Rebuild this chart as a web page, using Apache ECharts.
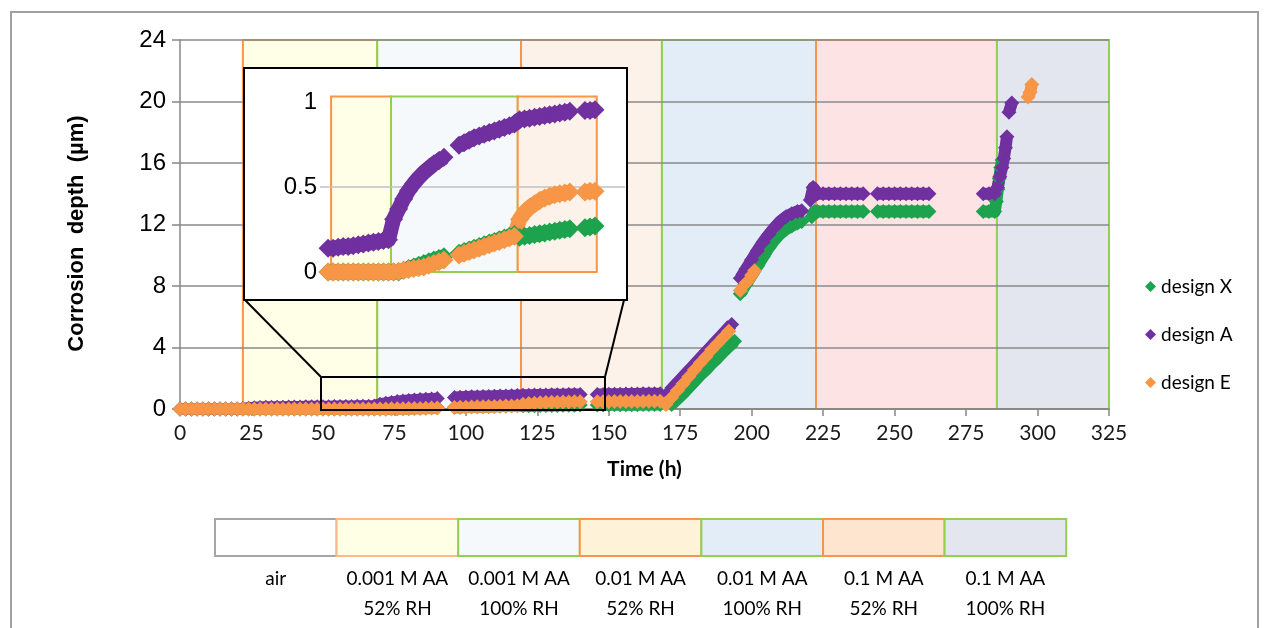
<!DOCTYPE html>
<html><head><meta charset="utf-8">
<script src="https://cdn.jsdelivr.net/npm/echarts@6/dist/echarts.min.js"></script>
<style>html,body{margin:0;padding:0;background:#fff}#c{width:1271px;height:628px}</style>
</head><body><div id="c"></div>
<script>
// ---------- data ----------
const seriesNames = ['design X', 'design A', 'design E'];
const seriesColors = ['#1DA34D', '#7030A0', '#F79646'];

// sampling times of the early (low corrosion) period, hours
const timeLow = [0,2,4,6,8,10,12,14,16,18,20,22,24,26,28,30,32,34,36,38,40,42,44,46,48,50,52,54,56,58,60,62,64,66,68,70,72,74,76,78,80,82,84,86,88,90,
  96,98,100,102,104,106,108,110,112,114,116,118,120,122,124,126,128,130,132,134,136,138,140,
  146,148,150,152,154,156,158,160,162,164,166,168];

const designX_low = [0,0,0,0,0,0,0,0,0,0, 0,0,0,0,0,0,0,0,0,0, 0,0,0,0,0,0,0,0,0,0, 0,0,0,0,0,0,0,
  0.01,0.02,0.03,0.04,0.05,0.06,0.07,0.08,0.09,
  0.11,0.12,0.13,0.14,0.15,0.16,0.17,0.18,0.19,0.20,0.21,0.22,
  0.205,0.21,0.215,0.22,0.225,0.23,0.235,0.24,0.245,0.25,0.255,
  0.26,0.265,0.27,0.27,0.275,0.275,0.28,0.28,0.285,0.285,0.29,0.29];

const designA_low = [0,0,0,0,0,0,0,0,0,0,0,
  0.02,0.05,0.08,0.10,0.11,0.115,0.12,0.12,0.125,0.13,0.135,
  0.14,0.14,0.145,0.15,0.15,0.155,0.16,0.165,0.17,0.175,0.18,0.185,0.19,
  0.31,0.37,0.43,0.48,0.52,0.555,0.585,0.61,0.635,0.655,0.675,
  0.745,0.76,0.775,0.79,0.80,0.81,0.82,0.83,0.84,0.85,0.86,0.87,
  0.895,0.90,0.905,0.91,0.915,0.92,0.925,0.93,0.935,0.94,0.945,
  0.95,0.95,0.955,0.96,0.965,0.97,0.975,0.98,0.985,0.99,0.99,1.0];

const designE_low = [0,0,0,0,0,0,0,0,0,0, 0,0,0,0,0,0,0,0,0,0, 0,0,0,0,0,0,0,0,0,0, 0,0,0,0,0,
  0,0.005,0.01,0.015,0.02,0.025,0.03,0.04,0.05,0.06,0.07,
  0.10,0.11,0.12,0.13,0.14,0.15,0.16,0.17,0.18,0.19,0.20,0.21,
  0.31,0.35,0.38,0.40,0.42,0.435,0.445,0.455,0.46,0.465,0.47,
  0.47,0.475,0.475,0.48,0.48,0.485,0.49,0.49,0.495,0.5,0.5,0.5];

// later period [time h, depth µm]
const designX_high = [[172,0.3],[174,0.65],[176,1.0],[178,1.4],[180,1.8],[182,2.2],[184,2.55],[186,2.95],[188,3.3],[190,3.7],[192,4.05],[194,4.4],
  [196,7.5],[198,8.1],[200,8.7],[202,9.3],[204,9.9],[206,10.5],[208,11.0],[210,11.4],[212,11.7],[214,11.9],[216,12.1],[217.5,12.2],
  [221,12.5],[222,12.85],[223,12.85],[225,12.85],[227,12.85],[229,12.85],[231,12.85],[233,12.85],[235,12.85],[237,12.85],[239,12.85],
  [244,12.85],[246,12.85],[248,12.85],[250,12.85],[252,12.85],[254,12.85],[256,12.85],[258,12.85],[260,12.85],[262,12.85],
  [281,12.85],[283,12.85],[285,12.85],
  [285.6,13.5],[286.1,14.3],[286.6,15.0],[287.1,15.7],[287.6,16.2]];

const designA_high = [[171,1.1],[173,1.5],[175,1.9],[177,2.3],[179,2.7],[181,3.1],[183,3.5],[185,3.9],[187,4.3],[189,4.7],[191,5.1],[193,5.5],
  [196,8.5],[198,9.1],[200,9.7],[202,10.3],[204,10.85],[206,11.35],[208,11.8],[210,12.2],[212,12.5],[214,12.7],[216,12.85],[217.5,12.9],
  [220.5,13.6],[221.5,14.4],[223,14.0],[225,14.0],[227,14.0],[229,14.0],[231,14.0],[233,14.0],[235,14.0],[237,14.0],[239,14.0],
  [244,14.0],[246,14.0],[248,14.0],[250,14.0],[252,14.0],[254,14.0],[256,14.0],[258,14.0],[260,14.0],[262,14.0],
  [281,14.0],[283,14.0],[285,14.0],
  [286,14.4],[286.8,15.1],[287.6,15.7],[288.2,16.3],[288.8,17.0],[289.3,17.7],[290,19.3],[291,19.9]];

const designE_high = [[170,0.3],[172,0.75],[174,1.2],[176,1.65],[178,2.1],[180,2.55],[182,3.0],[184,3.4],[186,3.85],[188,4.25],[190,4.65],[192,5.05],
  [196,7.7],[198,8.2],[200,8.7],[201,9.0],
  [296.7,20.3],[297.4,20.6],[298,21.1]];

// exposure condition periods (h)
const bandEdges = [22, 69, 119.3, 168.6, 222.5, 285.8, 325];
const bandFills = ['#FFFFE8', '#F5F9FC', '#FDF2E9', '#E3EDF7', '#FDE3E4', '#E3E6EE'];
const bandBorders = ['#F79646', '#92D050', '#F79646', '#92D050', '#F79646', '#92D050'];
const insetWindow = [45.2, 150.7];
const insetDataRange = [44, 150];

// condition key
const conditionLine1 = ['air', '0.001 M AA', '0.001 M AA', '0.01 M AA', '0.01 M AA', '0.1 M AA', '0.1 M AA'];
const conditionLine2 = ['', '52% RH', '100% RH', '52% RH', '100% RH', '52% RH', '100% RH'];
const keyFills = ['#FFFFFF', '#FFFFE5', '#F6F9FC', '#FEF3D8', '#E3EDF7', '#FDE5CF', '#E3E6EE'];
const keyBorders = ['#A6A6A6', '#F9B98A', '#92D050', '#F79646', '#92D050', '#F79646', '#92D050'];

// ---------- build ----------
const lows = [designX_low, designA_low, designE_low];
const highs = [designX_high, designA_high, designE_high];
const full = lows.map((vals, s) => timeLow.map((t, i) => [t, vals[i]]).concat(highs[s]));
const insetData = full.map(d => d.filter(p => p[0] >= insetDataRange[0] && p[0] <= insetDataRange[1]));

// break the drawn trace where measurements are missing
function withBreaks(d) {
  const out = [];
  d.forEach((p, i) => {
    if (i > 0) {
      const q = d[i - 1];
      if (p[0] - q[0] > 2.6 || Math.abs(p[1] - q[1]) > 1.2) out.push([(p[0] + q[0]) / 2, '-']);
    }
    out.push(p);
  });
  return out;
}

const mainBands = [];
for (let i = 0; i < bandFills.length; i++) {
  mainBands.push([{ xAxis: bandEdges[i], yAxis: 0, itemStyle: { color: bandFills[i], borderColor: bandBorders[i], borderWidth: 2 } },
                  { xAxis: bandEdges[i + 1], yAxis: 24 }]);
}
const insetEdges = [insetWindow[0], bandEdges[1], bandEdges[2], insetWindow[1]];
const insetBands = [];
for (let i = 0; i < 3; i++) {
  insetBands.push([{ xAxis: insetEdges[i], yAxis: 0, itemStyle: { color: bandFills[i], borderColor: bandBorders[i], borderWidth: 2 } },
                   { xAxis: insetEdges[i + 1], yAxis: 1.033 }]);
}

const series = [
  { type: 'scatter', name: 'bands', data: [], xAxisIndex: 0, yAxisIndex: 0, z: 1, silent: true,
    markArea: { silent: true, z: 1, data: mainBands } }
];
full.forEach((d, s) => series.push({
  type: 'line', name: seriesNames[s], data: withBreaks(d), xAxisIndex: 0, yAxisIndex: 0, z: 3,
  clip: false, connectNulls: false, showSymbol: true, showAllSymbol: true,
  symbol: 'diamond', symbolSize: 15, itemStyle: { color: seriesColors[s], opacity: 1 },
  lineStyle: { color: seriesColors[s], width: 12, join: 'round', cap: 'butt' }
}));
series.push({ type: 'scatter', name: 'insetBands', data: [], xAxisIndex: 1, yAxisIndex: 1, z: 11, silent: true,
  markArea: { silent: true, z: 11, data: insetBands } });
series.push({ type: 'scatter', name: 'insetGrid', data: [], xAxisIndex: 1, yAxisIndex: 1, z: 12, silent: true,
  markLine: { silent: true, z: 12, symbol: 'none', label: { show: false },
    lineStyle: { color: '#C0C0C0', width: 1.5, type: 'solid' }, data: [{ yAxis: 0.5 }] } });
insetData.forEach((d, s) => series.push({
  type: 'line', name: seriesNames[s], data: withBreaks(d), xAxisIndex: 1, yAxisIndex: 1, z: 13,
  clip: false, connectNulls: false, showSymbol: true, showAllSymbol: true,
  symbol: 'diamond', symbolSize: 19, itemStyle: { color: seriesColors[s], opacity: 1 },
  lineStyle: { color: seriesColors[s], width: 15, join: 'round', cap: 'butt' }
}));

const graphic = [
  { type: 'rect', z: 0, silent: true, shape: { x: 11, y: 12, width: 1247, height: 640 }, style: { fill: 'none', stroke: '#A0A0A0', lineWidth: 2 } },
  { type: 'rect', z: 10, silent: true, shape: { x: 244, y: 68, width: 383, height: 232 }, style: { fill: '#FFFFFF', stroke: '#000000', lineWidth: 2 } },
  { type: 'rect', z: 20, silent: true, shape: { x: 321, y: 377, width: 284, height: 33 }, style: { fill: 'none', stroke: '#000000', lineWidth: 2 } },
  { type: 'line', z: 20, silent: true, shape: { x1: 245, y1: 300, x2: 321, y2: 377 }, style: { stroke: '#000000', lineWidth: 2 } },
  { type: 'line', z: 20, silent: true, shape: { x1: 624, y1: 300, x2: 605, y2: 377 }, style: { stroke: '#000000', lineWidth: 2 } }
];
const keyX0 = 215, keyW = 121.6;
for (let i = 0; i < keyFills.length; i++) {
  const cx = keyX0 + keyW * (i + 0.5);
  graphic.push({ type: 'rect', z: 1, silent: true, shape: { x: keyX0 + keyW * i, y: 519, width: keyW, height: 37 },
    style: { fill: keyFills[i], stroke: keyBorders[i], lineWidth: 2 } });
  graphic.push({ type: 'text', z: 1, silent: true, x: cx, y: 579,
    style: { text: conditionLine1[i], fill: '#000', fontFamily: 'Lato', fontSize: 19, align: 'center', verticalAlign: 'middle', textAlign: 'center', textVerticalAlign: 'middle' } });
  if (conditionLine2[i]) graphic.push({ type: 'text', z: 1, silent: true, x: cx, y: 609,
    style: { text: conditionLine2[i], fill: '#000', fontFamily: 'Lato', fontSize: 19, align: 'center', verticalAlign: 'middle', textAlign: 'center', textVerticalAlign: 'middle' } });
}

const chart = echarts.init(document.getElementById('c'));
chart.setOption({
  animation: false,
  backgroundColor: '#ffffff',
  grid: [
    { left: 180, right: 162, top: 40, bottom: 219 },
    { left: 320, width: 305, top: 93.5, height: 178.5 }
  ],
  xAxis: [
    { type: 'value', gridIndex: 0, min: 0, max: 325, interval: 25, z: 2,
      name: 'Time (h)', nameLocation: 'middle', nameGap: 50,
      nameTextStyle: { fontFamily: 'Lato', fontWeight: 'bold', fontSize: 21, color: '#000' },
      axisLine: { show: true, lineStyle: { color: '#868686', width: 1.5 } },
      axisTick: { show: true, length: 7, lineStyle: { color: '#868686', width: 1.5 } },
      axisLabel: { fontFamily: 'Lato', fontSize: 21, color: '#1a1a1a', margin: 14 },
      splitLine: { show: false } },
    { type: 'value', gridIndex: 1, min: 40.8, max: 161.9, show: false, z: 11 }
  ],
  yAxis: [
    { type: 'value', gridIndex: 0, min: 0, max: 24, interval: 4, z: 2,
      name: 'Corrosion  depth  (µm)', nameLocation: 'middle', nameGap: 92,
      nameTextStyle: { fontFamily: 'Liberation Sans', fontWeight: 'bold', fontSize: 22, color: '#000', padding: [0, 18, 0, 0] },
      axisLine: { show: true, lineStyle: { color: '#868686', width: 1.5 } },
      axisTick: { show: true, length: 8, lineStyle: { color: '#868686', width: 1.5 } },
      axisLabel: { fontFamily: 'Liberation Sans', fontSize: 24, color: '#000', margin: 14 },
      splitLine: { show: true, lineStyle: { color: '#8A8A8A', width: 1.5 } } },
    { type: 'value', gridIndex: 1, min: 0, max: 1.05, interval: 0.5, z: 11,
      axisLine: { show: false }, axisTick: { show: false }, splitLine: { show: false },
      axisLabel: { fontFamily: 'Liberation Sans', fontSize: 24, color: '#000', margin: 3,
        formatter: v => (v === 0 || v === 0.5 || v === 1) ? String(v) : '' } }
  ],
  legend: {
    data: seriesNames, orient: 'vertical', left: 1140, top: 272, itemGap: 29,
    itemWidth: 11, itemHeight: 11, icon: 'diamond',
    textStyle: { fontFamily: 'Lato', fontSize: 19, color: '#000' }
  },
  graphic: graphic,
  series: series
});
</script>
</body></html>
